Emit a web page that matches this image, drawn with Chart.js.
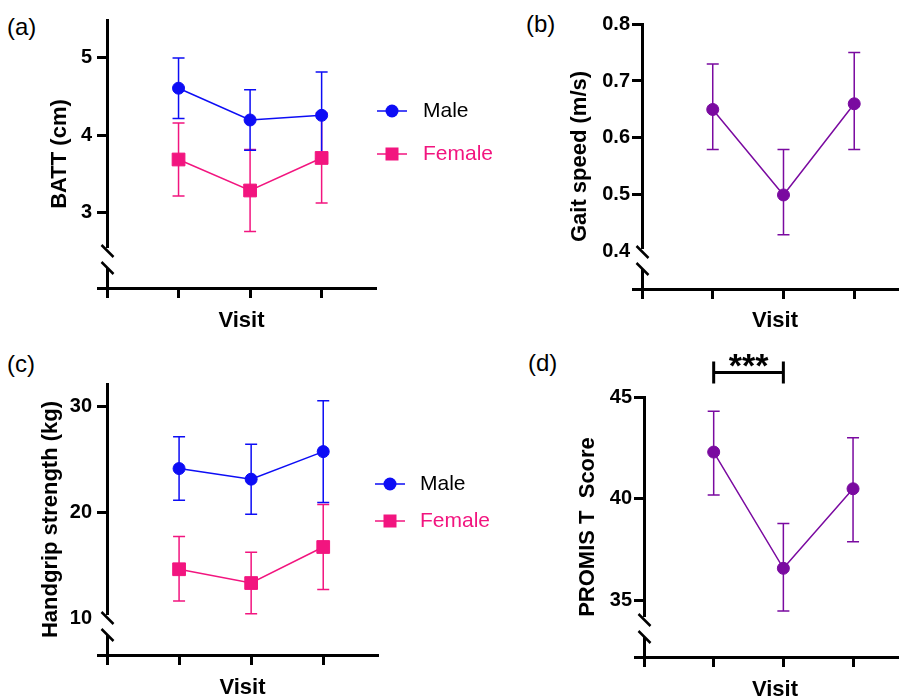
<!DOCTYPE html>
<html>
<head>
<meta charset="utf-8">
<script src="https://cdn.jsdelivr.net/npm/chart.js@4.4.1/dist/chart.umd.min.js"></script>
<style>
  html, body { margin: 0; padding: 0; background: #fff; }
  body { width: 899px; height: 698px; position: relative; overflow: hidden; font-family: 'Liberation Sans', Arial, sans-serif; }
  canvas { position: absolute; }
  .tag { position: absolute; font-size: 24px; line-height: 24px; color: #000; }
</style>
</head>
<body>
<div class="tag" style="left:7px;top:15px">(a)</div>
<div class="tag" style="left:526px;top:12px">(b)</div>
<div class="tag" style="left:7px;top:352px">(c)</div>
<div class="tag" style="left:528px;top:351px">(d)</div>

<canvas id="battChart" width="520" height="340" style="left:0;top:0"></canvas>
<canvas id="gaitChart" width="400" height="340" style="left:520px;top:0"></canvas>
<canvas id="gripChart" width="520" height="370" style="left:0;top:340px"></canvas>
<canvas id="promisChart" width="400" height="370" style="left:520px;top:340px"></canvas>

<script>
const visits = [1, 2, 3];

// (a) BATT
const battMale = [4.61, 4.20, 4.26];
const battMaleLow = [4.22, 3.81, 3.70];
const battMaleHigh = [5.00, 4.59, 4.82];
const battFemale = [3.69, 3.29, 3.71];
const battFemaleLow = [3.22, 2.76, 3.13];
const battFemaleHigh = [4.16, 3.82, 4.29];
const battTicks = [3, 4, 5];
const battTickLabels = ['3', '4', '5'];

// (b) gait speed
const gaitSpeed = [0.65, 0.50, 0.66];
const gaitLow = [0.58, 0.43, 0.58];
const gaitHigh = [0.73, 0.58, 0.75];
const gaitTicks = [0.4, 0.5, 0.6, 0.7, 0.8];
const gaitTickLabels = ['0.4', '0.5', '0.6', '0.7', '0.8'];

// (c) handgrip
const gripMale = [24.1, 23.1, 25.7];
const gripMaleLow = [21.1, 19.8, 20.9];
const gripMaleHigh = [27.1, 26.4, 30.5];
const gripFemale = [14.6, 13.3, 16.7];
const gripFemaleLow = [11.6, 10.4, 12.7];
const gripFemaleHigh = [17.7, 16.2, 20.7];
const gripTicks = [10, 20, 30];
const gripTickLabels = ['10', '20', '30'];

// (d) PROMIS
const promisScore = [42.3, 36.6, 40.5];
const promisLow = [40.2, 34.5, 37.9];
const promisHigh = [44.3, 38.8, 43.0];
const promisTicks = [35, 40, 45];
const promisTickLabels = ['35', '40', '45'];

const FONT = "'Liberation Sans', Arial, sans-serif";
const BLUE = '#0d0df5';
const PINK = '#f2157f';
const PURPLE = '#7a0aa0';

Chart.defaults.font.family = FONT;
Chart.defaults.color = '#000';

const toPoints = (values) => visits.map((v, i) => ({ x: v, y: values[i] }));

const errorBars = {
  id: 'errorBars',
  beforeDatasetsDraw(chart) {
    const { ctx } = chart;
    const xs = chart.scales.x;
    const ys = chart.scales.y;
    chart.data.datasets.slice().reverse().forEach((ds) => {
      if (!ds.errLow) return;
      ctx.save();
      ctx.strokeStyle = ds.borderColor;
      ctx.lineWidth = 1.5;
      ds.data.forEach((pt, i) => {
        const px = xs.getPixelForValue(pt.x);
        const top = ys.getPixelForValue(ds.errHigh[i]);
        const bot = ys.getPixelForValue(ds.errLow[i]);
        ctx.beginPath();
        ctx.moveTo(px, top); ctx.lineTo(px, bot);
        ctx.moveTo(px - 6, top); ctx.lineTo(px + 6, top);
        ctx.moveTo(px - 6, bot); ctx.lineTo(px + 6, bot);
        ctx.stroke();
      });
      ctx.restore();
    });
  },
};

const axisBreak = {
  id: 'axisBreak',
  afterDraw(chart, args, opts) {
    if (opts.top == null) return;
    const { ctx, chartArea } = chart;
    const x = Math.round(chartArea.left) + 0.5;
    const yTop = chartArea.bottom - opts.top;
    const yBot = chartArea.bottom - opts.bottom;
    ctx.save();
    ctx.fillStyle = '#fff';
    ctx.fillRect(x - 3, yTop, 6, yBot - yTop);
    ctx.strokeStyle = '#000';
    ctx.lineWidth = 2.5;
    [yTop + 3, yBot].forEach((cy) => {
      ctx.beginPath();
      ctx.moveTo(x - 6, cy - 6);
      ctx.lineTo(x + 6, cy + 6);
      ctx.stroke();
    });
    ctx.restore();
  },
};

const lineLegend = {
  id: 'lineLegend',
  afterDraw(chart, args, opts) {
    if (opts.x == null) return;
    const { ctx } = chart;
    chart.data.datasets.forEach((ds, i) => {
      const cy = opts.y + i * opts.gap;
      const cx = opts.x + 15;
      ctx.save();
      ctx.strokeStyle = ds.borderColor;
      ctx.fillStyle = ds.borderColor;
      ctx.lineWidth = 1.5;
      ctx.beginPath();
      ctx.moveTo(opts.x, cy);
      ctx.lineTo(opts.x + 30, cy);
      ctx.stroke();
      if (ds.pointStyle === 'rect') {
        ctx.fillRect(cx - 6.5, cy - 6.5, 13, 13);
      } else {
        ctx.beginPath();
        ctx.arc(cx, cy, 6.5, 0, Math.PI * 2);
        ctx.fill();
      }
      ctx.font = `21px ${FONT}`;
      ctx.textBaseline = 'middle';
      ctx.fillStyle = ds.legendText;
      ctx.fillText(ds.label, opts.textX, cy);
      ctx.restore();
    });
  },
};

const sigBracket = {
  id: 'sigBracket',
  afterDraw(chart, args, opts) {
    if (!opts.pairs) return;
    const { ctx } = chart;
    const xs = chart.scales.x;
    const ys = chart.scales.y;
    opts.pairs.forEach(([a, b, level, text]) => {
      const x1 = xs.getPixelForValue(a);
      const x2 = xs.getPixelForValue(b);
      const y = ys.getPixelForValue(level);
      ctx.save();
      ctx.strokeStyle = '#000';
      ctx.lineWidth = 3;
      ctx.beginPath();
      ctx.moveTo(x1, y); ctx.lineTo(x2, y);
      ctx.moveTo(x1, y - 11); ctx.lineTo(x1, y + 11);
      ctx.moveTo(x2, y - 11); ctx.lineTo(x2, y + 11);
      ctx.stroke();
      ctx.fillStyle = '#000';
      ctx.font = `bold 34px ${FONT}`;
      ctx.textAlign = 'center';
      ctx.textBaseline = 'alphabetic';
      ctx.fillText(text, (x1 + x2) / 2, y + 4);
      ctx.restore();
    });
  },
};

function yScale({ min, max, ticks, labels, pad, title, titlePad, width, hideTick }) {
  return {
    type: 'linear',
    position: 'left',
    min,
    max,
    afterBuildTicks: (s) => { s.ticks = [min, ...ticks].map((v) => ({ value: v })); },
    afterFit: (s) => { s.width = width; },
    ticks: {
      padding: pad,
      autoSkip: false,
      color: '#000',
      font: { size: 20, weight: 'bold' },
      callback: (v, i) => (i === 0 ? '' : labels[i - 1]),
    },
    grid: {
      drawOnChartArea: false,
      tickLength: 10,
      tickWidth: 3,
      tickColor: (c) => (c.tick && c.tick.value === hideTick ? 'rgba(0,0,0,0)' : '#000'),
    },
    border: { color: '#000', width: 3 },
    title: {
      display: true,
      text: title,
      color: '#000',
      font: { size: 22, weight: 'bold' },
      padding: { top: titlePad, bottom: 0 },
    },
  };
}

function xScale({ height, titlePad }) {
  return {
    type: 'linear',
    min: 0,
    max: 3.76,
    afterBuildTicks: (s) => { s.ticks = [0, ...visits].map((v) => ({ value: v })); },
    afterFit: (s) => { s.height = height; },
    ticks: { display: false },
    grid: { drawOnChartArea: false, tickLength: 10, tickWidth: 3, tickColor: '#000' },
    border: { color: '#000', width: 3 },
    title: {
      display: true,
      text: 'Visit',
      color: '#000',
      font: { size: 22, weight: 'bold' },
      padding: { top: 0, bottom: titlePad },
    },
  };
}

function series(label, values, low, high, color, style, legendText) {
  return {
    label,
    data: toPoints(values),
    errLow: low,
    errHigh: high,
    legendText,
    borderColor: color,
    backgroundColor: color,
    borderWidth: 1.5,
    pointStyle: style,
    pointRadius: style === 'rect' ? 9 : 6,
    pointBorderWidth: 1,
    pointBackgroundColor: color,
    pointBorderColor: color,
    tension: 0,
  };
}

function makeChart(id, { datasets, x, y, padding, plugins }) {
  return new Chart(document.getElementById(id), {
    type: 'line',
    data: { datasets },
    options: {
      responsive: false,
      animation: false,
      devicePixelRatio: 1,
      layout: { padding },
      scales: { x: xScale(x), y: yScale(y) },
      plugins: Object.assign({ legend: { display: false }, tooltip: { enabled: false } }, plugins),
    },
    plugins: [errorBars, axisBreak, lineLegend, sigBracket],
  });
}

makeChart('battChart', {
  datasets: [
    series('Male', battMale, battMaleLow, battMaleHigh, BLUE, 'circle', '#000'),
    series('Female', battFemale, battFemaleLow, battFemaleHigh, PINK, 'rect', PINK),
  ],
  x: { height: 52, titlePad: 5.8 },
  y: { min: 2.032, max: 5.49, ticks: battTicks, labels: battTickLabels, pad: 5, title: 'BATT (cm)', titlePad: 46.8, width: 107 },
  padding: { left: 0, top: 20, right: 144, bottom: 0 },
  plugins: {
    axisBreak: { top: 40, bottom: 20 },
    lineLegend: { x: 377, y: 111, gap: 43, textX: 423 },
  },
});

makeChart('gaitChart', {
  datasets: [series('Gait speed', gaitSpeed, gaitLow, gaitHigh, PURPLE, 'circle', PURPLE)],
  x: { height: 51, titlePad: 5.8 },
  y: { min: 0.335, max: 0.8, ticks: gaitTicks, labels: gaitTickLabels, pad: 2, title: 'Gait speed (m/s)', titlePad: 46.8, width: 122, hideTick: 0.4 },
  padding: { left: 0, top: 24, right: 12, bottom: 0 },
  plugins: { axisBreak: { top: 40, bottom: 20 } },
});

makeChart('gripChart', {
  datasets: [
    series('Male', gripMale, gripMaleLow, gripMaleHigh, BLUE, 'circle', '#000'),
    series('Female', gripFemale, gripFemaleLow, gripFemaleHigh, PINK, 'rect', PINK),
  ],
  x: { height: 55, titlePad: 8.8 },
  y: { min: 6.51, max: 32.08, ticks: gripTicks, labels: gripTickLabels, pad: 5, title: 'Handgrip strength (kg)', titlePad: 37.8, width: 107, hideTick: 10 },
  padding: { left: 0, top: 44, right: 142, bottom: 0 },
  plugins: {
    axisBreak: { top: 40, bottom: 20 },
    lineLegend: { x: 375, y: 144, gap: 37, textX: 420 },
  },
});

makeChart('promisChart', {
  datasets: [series('PROMIS T Score', promisScore, promisLow, promisHigh, PURPLE, 'circle', PURPLE)],
  x: { height: 53, titlePad: 6.8 },
  y: { min: 32.25, max: 45, ticks: promisTicks, labels: promisTickLabels, pad: 2, title: 'PROMIS T  Score', titlePad: 54.3, width: 124 },
  padding: { left: 0, top: 57, right: 14, bottom: 0 },
  plugins: {
    axisBreak: { top: 40, bottom: 20 },
    sigBracket: { pairs: [[1, 2, 46.2, '***']] },
  },
});
</script>
</body>
</html>
